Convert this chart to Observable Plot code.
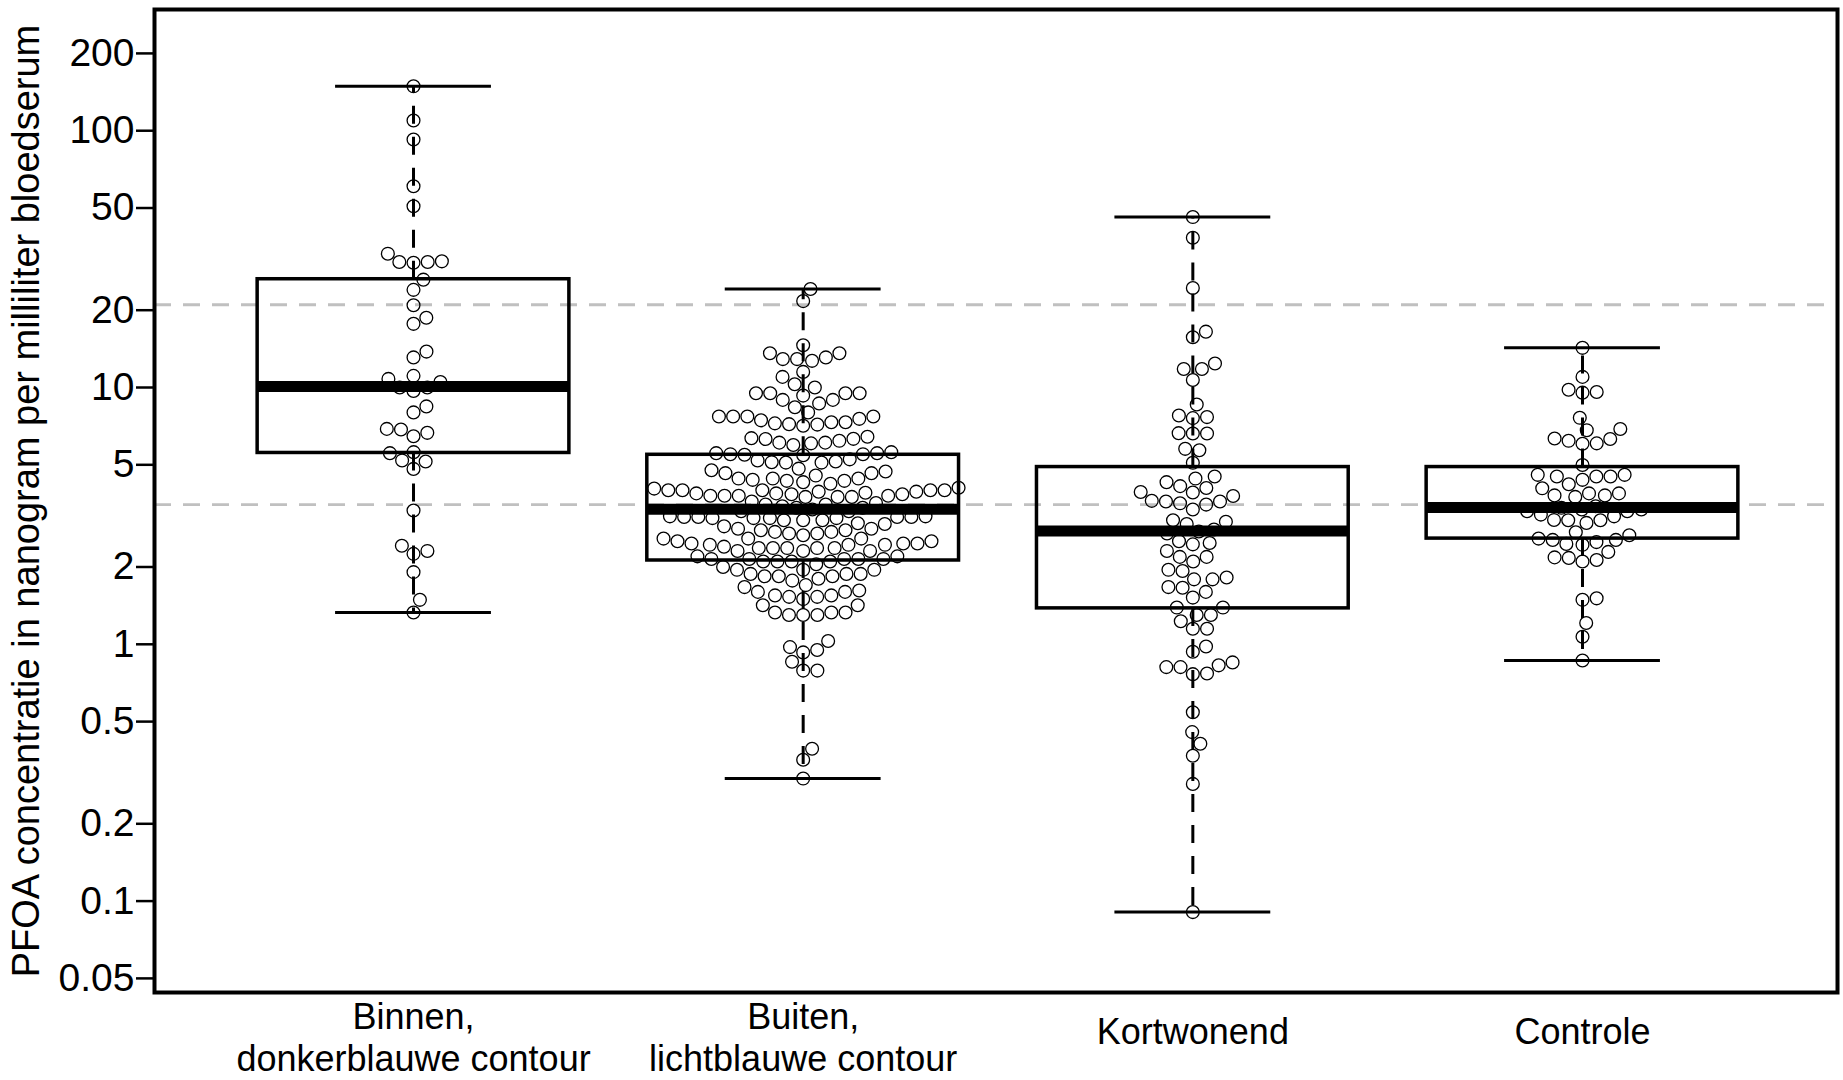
<!DOCTYPE html>
<html>
<head>
<meta charset="utf-8">
<script src="https://cdn.jsdelivr.net/npm/d3@7"></script>
<script src="https://cdn.jsdelivr.net/npm/@observablehq/plot@0.6"></script>
<style>
  html, body { margin: 0; padding: 0; background: #fff; overflow: hidden; }
  #chart svg { display: block; }
</style>
</head>
<body>
<div id="chart"></div>
<script>
// ---- data ----
const groups = ["Binnen,\ndonkerblauwe contour", "Buiten,\nlichtblauwe contour", "Kortwonend", "Controle"];

const binnen = [148.9, 109.6, 92.4, 60.8, 50.8, 30.8, 30.8, 30.6, 31.0, 33.2, 26.3, 24.0, 20.9, 18.7, 17.7,
  13.8, 13.1, 11.1, 10.8, 10.5, 10.0, 10.0, 9.7, 8.44, 8.0, 6.9, 6.86, 6.66, 6.46, 5.6, 5.55, 5.2, 5.15,
  4.82, 3.32, 2.42, 2.31, 2.25, 1.91, 1.49, 1.33];

const buiten = [24.2, 21.7, 14.6,
  13.6, 12.9, 12.7, 12.9, 13.1, 13.6,
  11.5, 11.0, 10.3, 10.0,
  9.5, 9.5, 8.95, 8.67, 9.3, 8.38, 8.95, 9.5, 9.5,
  8.0,
  7.71, 7.71, 7.55, 7.32, 7.25, 7.17, 7.2, 7.1, 7.32, 7.45, 7.71, 7.71,
  6.3, 6.31, 6.06, 5.97, 6.1, 6.2, 6.1, 6.43, 6.35,
  5.55, 5.5, 5.45, 5.5, 5.55, 5.6, 5.47, 5.1, 5.15, 5.1, 5.2, 5.12, 5.25,
  4.83, 4.54, 4.37, 4.22, 4.64, 4.42, 4.42, 4.28, 4.71, 4.33, 4.76, 4.33, 4.42, 4.64,
  4.07, 3.98, 3.93, 3.84, 3.75, 3.75, 3.79, 3.75, 3.98, 3.98, 3.84, 3.87, 3.93, 3.98, 3.87, 3.79, 3.79, 3.79, 3.89, 3.98, 4.04,
  3.3, 3.35, 3.4, 3.45, 3.5, 3.55, 3.3, 3.4, 3.5, 3.6,
  3.13, 3.1, 3.04, 3.13, 3.1, 3.04, 2.96, 3.04, 3.1, 3.1, 3.13, 3.13, 3.15, 3.15,
  2.94, 2.82, 2.74, 2.78, 2.7, 2.66, 2.7, 2.74, 2.78, 2.82, 2.88,
  2.58, 2.47, 2.44, 2.31, 2.47, 2.44, 2.37, 2.37, 2.31, 2.37, 2.58, 2.37, 2.37, 2.44, 2.4, 2.52, 2.31, 2.47, 2.52, 2.58,
  2.2, 2.15, 2.1, 2.15, 2.1, 2.05, 2.15, 2.1, 2.15, 2.15, 2.1, 2.2,
  1.95, 1.88, 1.84, 1.8, 1.77, 1.95, 1.88, 1.84, 1.88, 1.95, 1.84, 2.0,
  1.62, 1.6, 1.55, 1.53, 1.5, 1.53, 1.55, 1.6, 1.67, 1.7,
  1.42, 1.33, 1.3, 1.33, 1.3, 1.3, 1.33, 1.42,
  0.975, 0.95, 0.93, 1.03,
  0.855, 0.79, 0.79,
  0.392, 0.355, 0.30];

const kortwonend = [46.1, 38.3, 24.4, 16.5, 15.7, 12.4, 11.8, 11.8, 10.7, 8.59, 7.78, 7.67, 7.6, 6.64, 6.62, 6.62,
  5.77, 5.7, 5.09, 4.5, 4.42, 4.28, 4.13, 4.06, 3.92, 3.9, 3.78, 3.6, 3.6, 3.62, 3.54, 3.5, 3.35, 3.04, 3.0, 2.94,
  2.8, 2.75, 2.7, 2.52, 2.48, 2.45, 2.31, 2.19, 2.19, 2.1, 1.95, 1.93, 1.82, 1.79, 1.79, 1.67, 1.66, 1.6, 1.52,
  1.39, 1.39, 1.3, 1.3, 1.23, 1.15, 1.15, 0.98, 0.935, 0.85, 0.828, 0.815, 0.815, 0.77, 0.765, 0.544, 0.455,
  0.41, 0.368, 0.286, 0.0906];

const controle = [14.27, 11.0, 9.8, 9.6, 9.55, 7.62, 6.89, 6.82, 6.33, 6.3, 6.2, 6.06, 6.04, 4.99, 4.57, 4.5, 4.5,
  4.5, 4.37, 4.57, 4.2, 4.05, 3.87, 3.8, 3.75, 3.8, 3.87, 3.3, 3.35, 3.4, 3.45, 3.35, 3.3, 3.2, 3.15, 3.05, 3.04,
  2.97, 3.04, 2.73, 2.58, 2.55, 2.5, 2.44, 2.46, 2.55, 2.66, 2.29, 2.18, 2.17, 2.1, 2.13, 1.51, 1.49, 1.21, 1.07, 0.865];

// box statistics
const whiskerLow  = [1.33, 0.30, 0.0906, 0.865];
const quartile1   = [5.56, 2.12, 1.38, 2.58];
const medians     = [10.1, 3.36, 2.76, 3.41];
const quartile3   = [26.4, 5.47, 4.9, 4.9];
const whiskerHigh = [148.9, 24.2, 46.1, 14.27];

const referenceLines = [21, 3.5];
const yTicks = [0.05, 0.1, 0.2, 0.5, 1, 2, 5, 10, 20, 50, 100, 200];
const yTickLabels = ["0.05", "0.1", "0.2", "0.5", "1", "2", "5", "10", "20", "50", "100", "200"];
const yTitle = "PFOA concentratie in nanogram per milliliter bloedserum";

// ---- layout ----
const W = 1843, H = 1080;
const mL = 154, mR = 6, mT = 9, mB = 88;
const xDomain = [0.3353, 4.6544];
const yDomain = [0.04406, 296.5];
const boxHalf = 0.4, capHalf = 0.2;
const D = 14.2; // swarm spacing in px

const xScale = Plot.scale({x: {domain: xDomain, range: [mL, W - mR]}});
const yScale = Plot.scale({y: {type: "log", domain: yDomain, range: [H - mB, mT]}});
const pxPerUnit = xScale.apply(2) - xScale.apply(1);

const groupValues = [binnen, buiten, kortwonend, controle];
const points = [];
groupValues.forEach((vals, gi) => {
  const items = vals.map(v => ({v, py: yScale.apply(v)})).sort((a, b) => b.py - a.py);
  const placed = [];
  for (const it of items) {
    const near = placed.filter(q => Math.abs(q.py - it.py) < D);
    const cands = [0];
    for (const q of near) {
      const dx = Math.sqrt(D * D - (q.py - it.py) ** 2);
      cands.push(q.px + dx, q.px - dx);
    }
    cands.sort((a, b) => Math.abs(a) - Math.abs(b));
    let chosen = 0;
    for (const c of cands) {
      if (near.every(q => (c - q.px) ** 2 + (q.py - it.py) ** 2 >= D * D - 0.01)) { chosen = c; break; }
    }
    it.px = chosen;
    placed.push(it);
    points.push({x: gi + 1 + chosen / pxPerUnit, v: it.v});
  }
});

const stats = groups.map((g, i) => ({
  i, pos: i + 1, lo: whiskerLow[i], q1: quartile1[i], med: medians[i], q3: quartile3[i], hi: whiskerHigh[i]
}));

const labelData = groups.map((g, i) => ({pos: i + 1, text: g, two: g.includes("\n")}));
const tickData = yTicks.map((v, i) => ({v, label: yTickLabels[i]}));

const font = "'Liberation Sans', Arial, Helvetica, sans-serif";

const chart = Plot.plot({
  width: W, height: H,
  marginLeft: mL, marginRight: mR, marginTop: mT, marginBottom: mB,
  style: {fontFamily: font, background: "#fff", color: "#000"},
  x: {domain: xDomain, axis: null},
  y: {type: "log", domain: yDomain, axis: null},
  marks: [
    Plot.ruleY(referenceLines, {stroke: "#c0c0c0", strokeWidth: 2.8, strokeDasharray: "17,12"}),
    Plot.ruleX(stats, {x: "pos", y1: "q3", y2: "hi", stroke: "#000", strokeWidth: 3, strokeDasharray: "18,13"}),
    Plot.ruleX(stats, {x: "pos", y1: "q1", y2: "lo", stroke: "#000", strokeWidth: 3, strokeDasharray: "18,13"}),
    Plot.ruleY(stats, {y: "hi", x1: d => d.pos - capHalf, x2: d => d.pos + capHalf, stroke: "#000", strokeWidth: 3}),
    Plot.ruleY(stats, {y: "lo", x1: d => d.pos - capHalf, x2: d => d.pos + capHalf, stroke: "#000", strokeWidth: 3}),
    Plot.rect(stats, {x1: d => d.pos - boxHalf, x2: d => d.pos + boxHalf, y1: "q1", y2: "q3", fill: "none", stroke: "#000", strokeWidth: 3.5}),
    Plot.ruleY(stats, {y: "med", x1: d => d.pos - boxHalf, x2: d => d.pos + boxHalf, stroke: "#000", strokeWidth: 11}),
    Plot.dot(points, {x: "x", y: "v", r: 6.4, fill: "none", stroke: "#000", strokeWidth: 1.3}),
    Plot.axisY({ticks: yTicks, tickFormat: null, text: null, tickSize: 18, strokeWidth: 2.5, label: null}),
    Plot.text(tickData, {y: "v", text: "label", frameAnchor: "left", dx: -20, textAnchor: "end", lineAnchor: "middle", fontSize: 39, fill: "#000"}),
    Plot.text(labelData.filter(d => d.two), {x: "pos", text: "text", frameAnchor: "bottom", dy: 44, lineAnchor: "middle", lineHeight: 1.18, fontSize: 36, fill: "#000"}),
    Plot.text(labelData.filter(d => !d.two), {x: "pos", text: "text", frameAnchor: "bottom", dy: 40, lineAnchor: "middle", fontSize: 36, fill: "#000"}),
    Plot.text([yTitle], {frameAnchor: "left", dx: -128, rotate: -90, fontSize: 38, textAnchor: "middle", lineAnchor: "middle", fill: "#000"}),
    Plot.frame({stroke: "#000", strokeWidth: 4})
  ]
});
document.getElementById("chart").appendChild(chart);
</script>
</body>
</html>
